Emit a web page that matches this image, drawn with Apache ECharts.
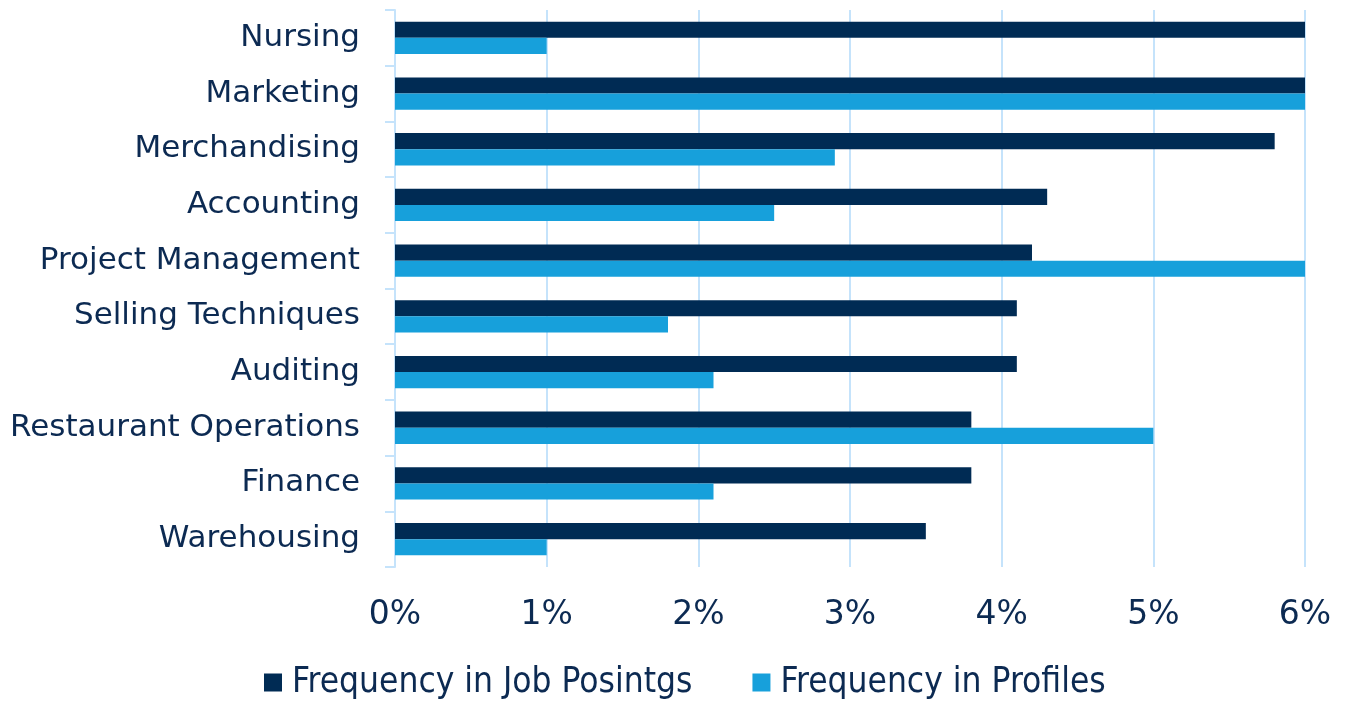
<!DOCTYPE html>
<html>
<head>
<meta charset="utf-8">
<script src="https://cdn.jsdelivr.net/npm/echarts@6/dist/echarts.min.js"></script>
<style>
  html, body { margin: 0; padding: 0; background: #fff; }
  #chart { width: 1349px; height: 701px; }
</style>
</head>
<body>
<div id="chart"></div>
<script>
var categories = ['Nursing', 'Marketing', 'Merchandising', 'Accounting', 'Project Management',
    'Selling Techniques', 'Auditing', 'Restaurant Operations', 'Finance', 'Warehousing'];
var jobPostings = [6.0, 6.0, 5.8, 4.3, 4.2, 4.1, 4.1, 3.8, 3.8, 3.5];
var profiles = [1.0, 6.0, 2.9, 2.5, 6.0, 1.8, 2.1, 5.0, 2.1, 1.0];
var xTicks = [0, 1, 2, 3, 4, 5, 6];

var navy = '#002b54';
var blue = '#17a0db';
var textColor = '#0c2a52';
var gridColor = '#c5e3fb';

var myChart = echarts.init(document.getElementById('chart'));

var option = {
    animation: false,
    textStyle: { fontFamily: 'DejaVu Sans' },
    grid: {
        left: 395,
        right: 44,
        top: 10,
        bottom: 134
    },
    legend: {
        bottom: -4,
        left: 259,
        itemWidth: 18,
        itemHeight: 18,
        itemGap: 60,
        icon: 'rect',
        textStyle: {
            fontFamily: 'DejaVu Sans Condensed',
            fontSize: 35,
            color: textColor,
            padding: [0, 0, 0, 5]
        },
        data: ['Frequency in Job Posintgs', 'Frequency in Profiles']
    },
    xAxis: {
        type: 'value',
        min: xTicks[0],
        max: xTicks[xTicks.length - 1],
        interval: 1,
        axisLine: { show: false },
        axisTick: { show: false },
        splitLine: { lineStyle: { color: gridColor, width: 2 } },
        axisLabel: {
            color: textColor,
            fontSize: 33,
            margin: 32,
            formatter: function (v) { return v + '%'; }
        }
    },
    yAxis: {
        type: 'category',
        inverse: true,
        data: categories,
        axisLine: { lineStyle: { color: gridColor, width: 2 } },
        axisTick: { show: true, length: 10, lineStyle: { color: gridColor, width: 2 } },
        axisLabel: {
            color: textColor,
            fontSize: 31,
            margin: 35
        }
    },
    series: [
        {
            name: 'Frequency in Job Posintgs',
            type: 'bar',
            data: jobPostings,
            itemStyle: { color: navy },
            barGap: '0%',
            barCategoryGap: '42%'
        },
        {
            name: 'Frequency in Profiles',
            type: 'bar',
            data: profiles,
            itemStyle: { color: blue }
        }
    ]
};

myChart.setOption(option);
</script>
</body>
</html>
